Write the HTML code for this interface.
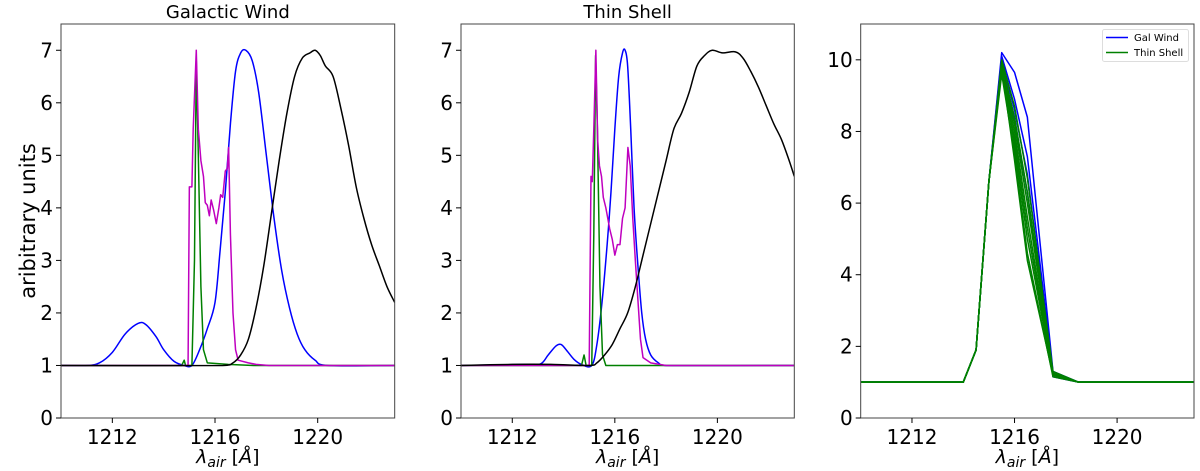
<!DOCTYPE html>
<html><head><meta charset="utf-8"><style>
html,body{margin:0;padding:0;background:#fff;}
svg{display:block;font-family:"DejaVu Sans","Liberation Sans",sans-serif;}
</style></head><body>
<svg id="chart" width="1200" height="471" viewBox="0 0 1200 471" xmlns="http://www.w3.org/2000/svg"></svg>
<script>
// ---- data ----
const xTicks = [1212, 1216, 1220];
const yTicks12 = [0,1,2,3,4,5,6,7];
const yTicks3 = [0,2,4,6,8,10];
const panelTitles = ["Galactic Wind", "Thin Shell", ""];

const gwBlueX = [1210,1211,1211.5,1212,1212.5,1213,1213.3,1213.7,1214,1214.4,1214.8,1215.1,1215.4,1215.7,1216,1216.2,1216.4,1216.6,1216.8,1217.0,1217.2,1217.45,1217.7,1218,1218.3,1218.6,1218.9,1219.2,1219.5,1219.9,1220.4,1223];
const gwBlueY = [1,1,1.05,1.25,1.6,1.8,1.78,1.55,1.3,1.08,1.0,1.0,1.3,1.7,2.2,3.2,4.3,5.6,6.6,6.95,7.0,6.8,6.2,5.0,3.8,2.8,2.1,1.6,1.3,1.1,1.0,1];
const gwBlackX = [1210,1216.3,1216.7,1217,1217.3,1217.6,1217.9,1218.2,1218.5,1218.8,1219.1,1219.4,1219.7,1219.9,1220.1,1220.3,1220.6,1220.9,1221.2,1221.5,1221.8,1222.1,1222.4,1222.7,1223];
const gwBlackY = [1,1,1.05,1.2,1.5,2.1,2.9,3.9,4.9,5.8,6.5,6.85,6.95,7.0,6.9,6.7,6.5,5.9,5.2,4.4,3.8,3.3,2.9,2.5,2.2];
const gwMagX = [1210,1214.95,1215.0,1215.1,1215.15,1215.27,1215.35,1215.45,1215.55,1215.62,1215.7,1215.78,1215.85,1215.95,1216.05,1216.15,1216.22,1216.3,1216.4,1216.48,1216.53,1216.6,1216.7,1216.8,1216.9,1217.3,1217.6,1218.1,1223];
const gwMagY = [1,1,4.4,4.4,5.5,7.0,5.5,4.9,4.6,4.1,4.05,3.85,4.15,3.95,3.7,4.0,4.25,4.2,4.7,4.75,5.15,3.5,2.0,1.3,1.1,1.05,1.02,1.0,1];
const gwGreenX = [1210,1214.7,1214.8,1214.85,1215.1,1215.2,1215.27,1215.35,1215.45,1215.55,1215.7,1216.5,1217.5,1223];
const gwGreenY = [1,1,1.1,1.0,1.0,3,6.8,5,2.5,1.3,1.05,1.02,1.0,1];

const tsBlueX = [1210,1212.5,1213.1,1213.4,1213.7,1213.9,1214.1,1214.4,1214.7,1215.1,1215.3,1215.5,1215.7,1215.85,1216.0,1216.15,1216.3,1216.4,1216.5,1216.62,1216.75,1216.9,1217.05,1217.2,1217.4,1217.7,1218.0,1223];
const tsBlueY = [1,1.02,1.03,1.2,1.37,1.4,1.3,1.12,1.02,1.0,1.4,2.2,3.3,4.3,5.5,6.5,6.95,7.0,6.7,5.5,4.0,2.9,2.0,1.5,1.2,1.05,1.0,1];
const tsBlackX = [1210,1212,1213.5,1215,1215.3,1215.6,1215.9,1216.2,1216.5,1216.8,1217.1,1217.4,1217.7,1218.0,1218.3,1218.6,1218.9,1219.2,1219.5,1219.8,1220.2,1220.7,1221.0,1221.3,1221.6,1221.9,1222.2,1222.5,1222.8,1223];
const tsBlackY = [1,1.02,1.02,1.0,1.05,1.2,1.4,1.7,2.0,2.5,3.1,3.7,4.3,4.9,5.5,5.8,6.2,6.7,6.9,7.0,6.95,6.97,6.85,6.6,6.3,5.95,5.6,5.3,4.9,4.6];
const tsMagX = [1210,1215.0,1215.07,1215.12,1215.18,1215.26,1215.33,1215.4,1215.48,1215.55,1215.65,1215.8,1215.9,1216.0,1216.1,1216.2,1216.3,1216.4,1216.51,1216.6,1216.7,1216.8,1217.0,1217.1,1217.4,1218,1223];
const tsMagY = [1,1,4.6,4.5,5.5,7.0,5.3,4.8,4.6,4.2,4.0,3.6,3.4,3.1,3.3,3.3,3.8,4.0,5.15,4.8,3.8,3.0,1.5,1.15,1.05,1.0,1];
const tsGreenX = [1210,1214.7,1214.8,1214.88,1215.1,1215.18,1215.25,1215.32,1215.42,1215.52,1215.65,1223];
const tsGreenY = [1,1,1.2,1.0,1.0,3.5,6.9,5.5,2.5,1.2,1.0,1];

const cmpX = [1210,1214,1214.5,1215,1215.5,1216,1216.5,1217.5,1218.5,1223];
const galWind1 = [1,1,1.9,6.6,10.2,9.65,8.4,1.3,1.0,1];
const galWind2 = [1,1,1.9,6.6,10.1,8.9,7.3,1.25,1.0,1];
const galWind3 = [1,1,1.9,6.6,10.0,8.6,6.8,1.2,1.0,1];
const galWind4 = [1,1,1.9,6.6,9.9,8.3,6.3,1.15,1.0,1];
const thinShell1 = [1,1,1.9,6.6,10.0,8.7,6.7,1.3,1.0,1];
const thinShell2 = [1,1,1.9,6.6,9.9,8.4,6.3,1.25,1.0,1];
const thinShell3 = [1,1,1.9,6.6,9.8,8.2,6.0,1.25,1.0,1];
const thinShell4 = [1,1,1.9,6.6,9.8,8.0,5.6,1.2,1.0,1];
const thinShell5 = [1,1,1.9,6.6,9.7,7.8,5.3,1.2,1.0,1];
const thinShell6 = [1,1,1.9,6.6,9.9,7.6,5.0,1.2,1.0,1];
const thinShell7 = [1,1,1.9,6.6,9.6,7.4,4.6,1.15,1.0,1];
const thinShell8 = [1,1,1.9,6.6,9.8,7.2,4.4,1.2,1.0,1];

// ---- drawing ----
const NS = "http://www.w3.org/2000/svg";
const svg = document.getElementById('chart');
function mk(tag, attrs, parent){ const e=document.createElementNS(NS,tag); for(const k in attrs) e.setAttribute(k,attrs[k]); (parent||svg).appendChild(e); return e; }

const panels = [
  {left:61, right:394.7, ymax:7.5, yt:yTicks12, name:'galactic-wind-panel'},
  {left:461, right:794.3, ymax:7.5, yt:yTicks12, name:'thin-shell-panel'},
  {left:860.7, right:1194, ymax:11, yt:yTicks3, name:'comparison-panel'}
];
const TOP=24, BOT=418, XMIN=1210, XMAX=1223;

function makeScales(p){
  return {
    sx: v => p.left + (v-XMIN)/(XMAX-XMIN)*(p.right-p.left),
    sy: v => BOT - v/p.ymax*(BOT-TOP)
  };
}

function drawLine(g, sc, xs, ys, color, name, smooth){
  const P = xs.map((x,i)=>[sc.sx(x), sc.sy(ys[i])]);
  let d = 'M'+P[0][0].toFixed(2)+','+P[0][1].toFixed(2);
  for(let i=1;i<P.length;i++){
    if(smooth){
      const p0=P[Math.max(0,i-2)], p1=P[i-1], p2=P[i], p3=P[Math.min(P.length-1,i+1)];
      const t=1/6;
      let c1=[p1[0]+(p2[0]-p0[0])*t, p1[1]+(p2[1]-p0[1])*t];
      let c2=[p2[0]-(p3[0]-p1[0])*t, p2[1]-(p3[1]-p1[1])*t];
      // clamp x to keep monotone in x
      c1[0]=Math.min(Math.max(c1[0],p1[0]),p2[0]); c2[0]=Math.min(Math.max(c2[0],p1[0]),p2[0]);
      d += 'C'+c1[0].toFixed(2)+','+c1[1].toFixed(2)+' '+c2[0].toFixed(2)+','+c2[1].toFixed(2)+' '+p2[0].toFixed(2)+','+p2[1].toFixed(2);
    } else {
      d += 'L'+P[i][0].toFixed(2)+','+P[i][1].toFixed(2);
    }
  }
  const path = mk('path',{d:d, fill:'none', stroke:color, 'stroke-width':1.5, 'stroke-linejoin':'round'}, g);
  
  
}

panels.forEach((p, idx) => {
  const g = mk('g',{});
  
  
  const sc = makeScales(p);
  const clipId = 'clip'+idx;
  const cp = mk('clipPath',{id:clipId}, g);
  mk('rect',{x:p.left,y:TOP,width:p.right-p.left,height:BOT-TOP}, cp);
  const plot = mk('g',{'clip-path':'url(#'+clipId+')'}, g);
  
  

  if(idx===0){
    drawLine(plot, sc, gwBlueX, gwBlueY, '#0000ff', 'blue-series', true);
    drawLine(plot, sc, gwGreenX, gwGreenY, '#008000', 'green-series', false);
    drawLine(plot, sc, gwMagX, gwMagY, '#bf00bf', 'magenta-series', false);
    drawLine(plot, sc, gwBlackX, gwBlackY, '#000000', 'black-series', true);
  } else if(idx===1){
    drawLine(plot, sc, tsBlueX, tsBlueY, '#0000ff', 'blue-series', true);
    drawLine(plot, sc, tsGreenX, tsGreenY, '#008000', 'green-series', false);
    drawLine(plot, sc, tsMagX, tsMagY, '#bf00bf', 'magenta-series', false);
    drawLine(plot, sc, tsBlackX, tsBlackY, '#000000', 'black-series', true);
  } else {
    [galWind1,galWind2,galWind3,galWind4].forEach((s,i)=>drawLine(plot, sc, cmpX, s, '#0000ff', 'gal-wind-line-'+(i+1), false));
    [thinShell1,thinShell2,thinShell3,thinShell4,thinShell5,thinShell6,thinShell7,thinShell8].forEach((s,i)=>drawLine(plot, sc, cmpX, s, '#008000', 'thin-shell-line-'+(i+1), false));
  }

  const frame = mk('rect',{x:p.left,y:TOP,width:p.right-p.left,height:BOT-TOP,fill:'none',stroke:'#444','stroke-width':1}, g);
  
  

  xTicks.forEach(t => {
    const x = sc.sx(t);
    mk('line',{x1:x,y1:BOT,x2:x,y2:BOT+5,stroke:'#000','stroke-width':1}, g);
    const tx = mk('text',{x:x,y:BOT+26,'text-anchor':'middle','font-size':20,fill:'#000'}, g);
    tx.textContent = t;
    
    
  });
  p.yt.forEach(t => {
    const y = sc.sy(t);
    mk('line',{x1:p.left-5,y1:y,x2:p.left,y2:y,stroke:'#000','stroke-width':1}, g);
    const ty = mk('text',{x:p.left-8,y:y+7,'text-anchor':'end','font-size':20,fill:'#000'}, g);
    ty.textContent = t;
    
    
  });

  const xl = mk('text',{x:(p.left+p.right)/2,y:463,'text-anchor':'middle','font-size':19,fill:'#000'}, g);
  xl.innerHTML = '<tspan font-style="italic">λ</tspan><tspan font-style="italic" font-size="14" dy="4">air</tspan><tspan dy="-4"> [</tspan><tspan font-style="italic">Å</tspan><tspan>]</tspan>';
  
  

  if(panelTitles[idx]){
    const tt = mk('text',{x:(p.left+p.right)/2,y:18,'text-anchor':'middle','font-size':18,fill:'#000'}, g);
    tt.textContent = panelTitles[idx];
    
    
  }
});

const yl = mk('text',{x:0,y:0,'text-anchor':'middle','font-size':21,fill:'#000',transform:'translate(35,221) rotate(-90)'});
yl.textContent = 'aribitrary units';



// legend
const lg = mk('g',{});


mk('rect',{x:1102.5,y:29.5,width:86,height:32,fill:'#fff',stroke:'#ddd','stroke-width':1,rx:2}, lg);
const legendItems = [['Gal Wind','#0000ff',37.5],['Thin Shell','#008000',52.5]];
legendItems.forEach(it => {
  const e = mk('g',{}, lg);
  
  
  mk('line',{x1:1106,y1:it[2],x2:1128,y2:it[2],stroke:it[1],'stroke-width':1.5}, e);
  const t = mk('text',{x:1134,y:it[2]+3.5,'font-size':10,fill:'#000'}, e);
  t.textContent = it[0];
});
</script>
</body></html>
